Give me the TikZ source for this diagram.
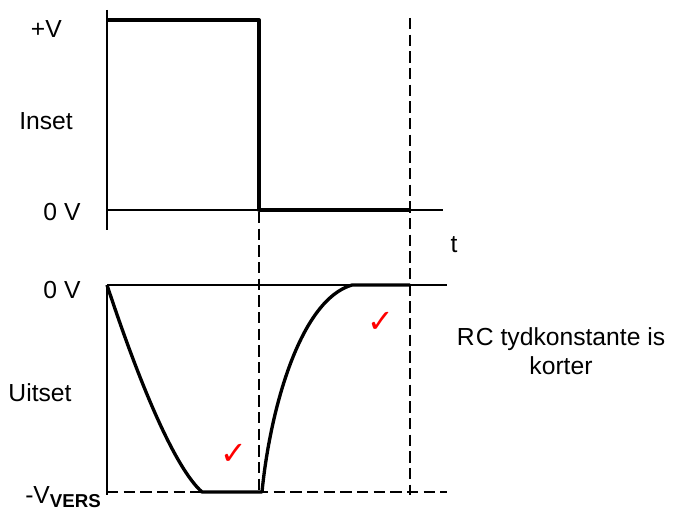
\documentclass[tikz,border=0pt]{standalone}
\usepackage{fontspec}
\setmainfont{Liberation Sans}
\newfontfamily\symfont{DejaVu Sans}
\begin{document}
\begin{tikzpicture}[x=0.75pt,y=-0.75pt,
  axis/.style={line width=1pt},
  sig/.style={line width=2.5pt,line join=round},
  guide/.style={line width=1.1pt,dash pattern=on 8.5pt off 4pt},
  lab/.style={font=\fontsize{18.5}{22}\selectfont,inner sep=0pt},
  tick/.style={text=red,font=\symfont\fontsize{24}{24}\selectfont,inner sep=0pt}]
\useasboundingbox (0,0) rectangle (678,510);
% top graph axes
\draw[axis] (107,10) -- (107,230);
\draw[axis] (107,210) -- (443,210);
% guides
\draw[guide] (259,212) -- (259,495);
\draw[guide] (410,18) -- (410,495);
\draw[guide] (107,492) -- (447,492);
% top signal
\draw[sig] (107,20) -- (259,20) -- (259,210) -- (410,210);
% bottom axes
\draw[axis] (107,285) -- (447,285);
\draw[axis] (107,285) -- (107,495);
% bottom signal
\draw[sig] (107,285) .. controls (140,385) and (175,468) .. (202,492) -- (262,492)
  .. controls (270,410) and (300,300) .. (352,285) -- (410,285);
% labels
\node[lab,anchor=east] (pv) at (62,29) {+V};
\node[lab] (inset) at (46,121) {Inset};
\node[lab] (z1) at (62,212) {0 V};
\node[lab] (t) at (454,245) {t};
\node[lab] (z2) at (62,290) {0 V};
\node[lab] (uit) at (40,393) {Uitset};
\node[lab,anchor=base west] (vv) at (25,503) {-V\raisebox{-3pt}{\fontsize{14}{14}\selectfont\bfseries VERS}};
\node[lab,align=center] (rc) at (561,351) {R\kern1pt C tydkonstante is\\korter};
\node[tick] (c1) at (234,454) {✓};
\node[tick] (c2) at (381,322) {✓};
\end{tikzpicture}
\end{document}
